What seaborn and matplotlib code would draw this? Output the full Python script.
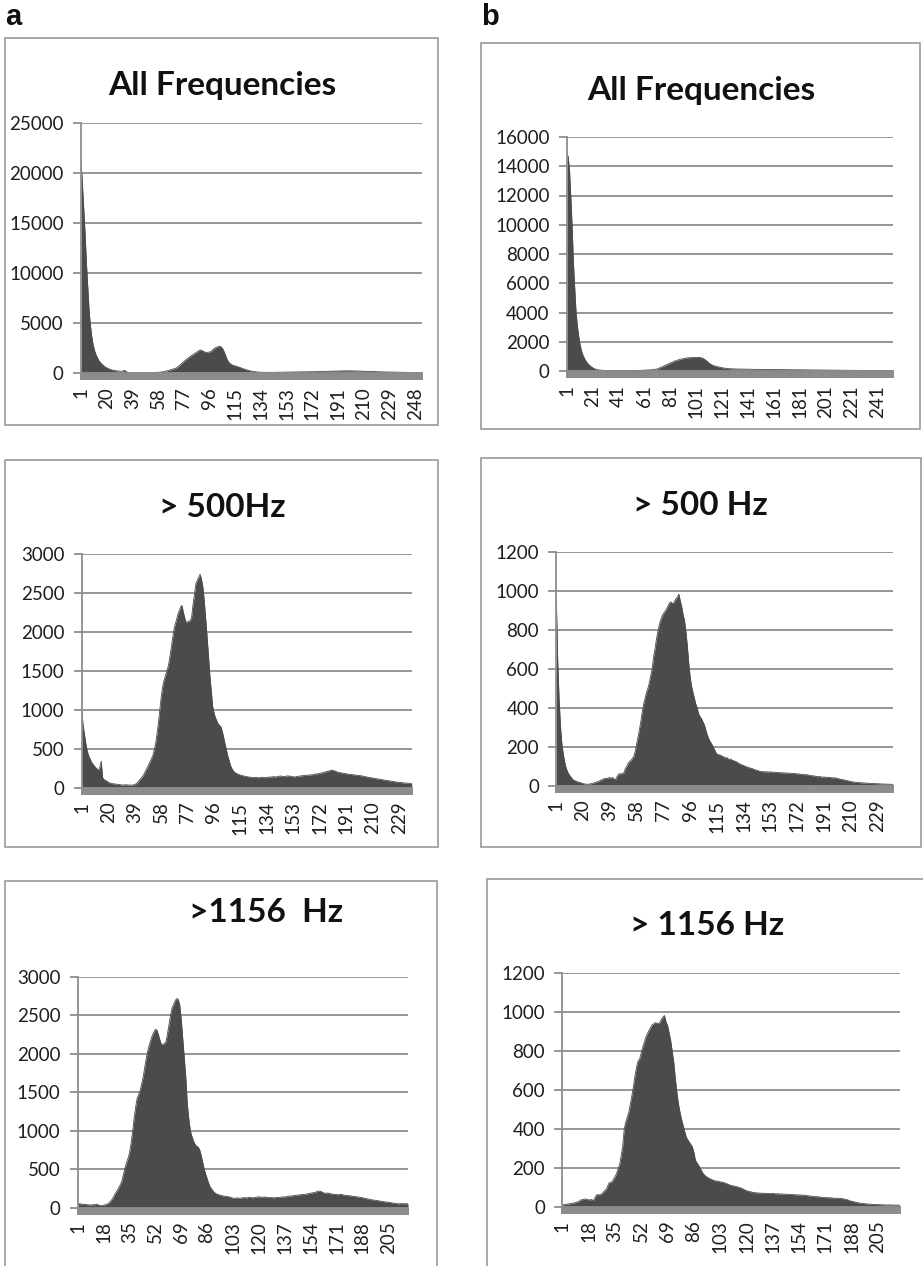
import numpy as np
import pandas as pd
import matplotlib
matplotlib.use("Agg")
import matplotlib.pyplot as plt
from matplotlib.patches import Rectangle
import seaborn as sns

# histogram counts per bin
all_freq_a = [
    21200, 19000, 16500, 14000, 11000, 8600, 6200, 4700, 3600, 2800,
    2250, 1850, 1550, 1300, 1100, 950, 820, 700, 600, 520,
    450, 390, 340, 300, 270, 240, 220, 200, 190, 180,
    170, 200, 280, 180, 90, 60, 50, 45, 40, 40,
    38, 36, 35, 35, 34, 33, 33, 34, 35, 36,
    38, 40, 42, 45, 50, 55, 62, 70, 80, 95,
    110, 130, 160, 190, 230, 270, 310, 350, 390, 430,
    480, 560, 660, 780, 900, 1030, 1150, 1270, 1380, 1480,
    1580, 1680, 1770, 1860, 1950, 2040, 2120, 2230, 2310, 2280,
    2200, 2120, 2080, 2060, 2070, 2090, 2150, 2280, 2400, 2500,
    2570, 2620, 2660, 2650, 2550, 2350, 2050, 1700, 1350, 1100,
    960, 870, 790, 740, 700, 660, 630, 590, 530, 470,
    420, 370, 330, 290, 250, 210, 180, 160, 140, 120,
    100, 90, 80, 75, 70, 68, 66, 64, 62, 60,
    60, 62, 64, 66, 68, 70, 72, 74, 76, 78,
    80, 82, 84, 86, 88, 90, 92, 94, 96, 98,
    100, 102, 104, 106, 108, 110, 112, 115, 118, 121,
    124, 127, 130, 134, 138, 142, 146, 150, 155, 160,
    165, 170, 175, 180, 185, 190, 195, 200, 204, 208,
    212, 215, 218, 220, 221, 222, 222, 221, 220, 218,
    215, 212, 208, 204, 200, 195, 190, 185, 180, 175,
    170, 165, 160, 155, 150, 145, 140, 135, 130, 126,
    122, 118, 114, 110, 106, 102, 98, 95, 92, 89,
    86, 83, 80, 78, 76, 74, 72, 70, 68, 66,
    64, 62, 60, 58, 56, 55, 54, 53, 52, 51,
    50, 49, 48,
]

all_freq_b = [
    14900, 14600, 13600, 11800, 9800, 7300, 5600, 4000, 3100, 2400,
    1850, 1450, 1150, 950, 780, 640, 520, 430, 350, 280,
    220, 170, 130, 100, 80, 65, 55, 50, 45, 42,
    40, 38, 36, 35, 34, 33, 32, 32, 31, 31,
    30, 30, 30, 30, 30, 30, 31, 31, 32, 32,
    33, 34, 35, 36, 38, 40, 42, 45, 48, 52,
    56, 60, 65, 70, 76, 82, 90, 100, 115, 130,
    150, 190, 230, 270, 310, 350, 390, 430, 470, 510,
    550, 590, 630, 670, 700, 730, 760, 790, 810, 830,
    850, 870, 885, 895, 905, 910, 915, 920, 925, 928,
    930, 932, 930, 920, 900, 870, 820, 760, 680, 600,
    530, 470, 420, 380, 350, 320, 300, 280, 260, 240,
    220, 205, 190, 180, 170, 162, 155, 150, 146, 142,
    139, 136, 134, 132, 130, 128, 126, 124, 122, 120,
    118, 117, 116, 115, 114, 113, 112, 111, 110, 109,
    108, 107, 106, 105, 104, 103, 102, 101, 100, 99,
    98, 97, 96, 95, 94, 93, 92, 91, 90, 89,
    88, 87, 86, 85, 84, 83, 82, 81, 80, 79,
    78, 77, 76, 75, 74, 73, 72, 71, 70, 69,
    68, 67, 66, 65, 64, 63, 62, 61, 60, 59,
    58, 57, 57, 56, 55, 55, 54, 53, 53, 52,
    51, 51, 50, 49, 49, 48, 47, 47, 46, 45,
    45, 44, 44, 43, 42, 42, 41, 41, 40, 40,
    39, 39, 38, 38, 37, 37, 36, 36, 35, 35,
    35, 34, 34, 33, 33, 33, 32, 32, 32, 31,
    31, 31, 30,
]

above500_a = [
    1000, 800, 680, 560, 470, 410, 370, 330, 305, 280,
    260, 240, 225, 260, 340, 130, 105, 95, 85, 70,
    62, 58, 52, 50, 47, 45, 42, 40, 38, 35,
    36, 34, 40, 33, 35, 34, 32, 36, 40, 50,
    65, 85, 110, 130, 150, 185, 220, 255, 290, 330,
    370, 410, 480, 560, 680, 820, 980, 1150, 1280, 1370,
    1430, 1490, 1550, 1640, 1760, 1880, 2000, 2090, 2150, 2220,
    2270, 2320, 2340, 2250, 2180, 2120, 2130, 2140, 2140, 2200,
    2360, 2480, 2620, 2660, 2700, 2740, 2680, 2580, 2400, 2180,
    1950, 1700, 1450, 1250, 1050, 960, 900, 860, 820, 800,
    780, 720, 640, 560, 480, 400, 340, 280, 240, 215,
    195, 185, 175, 168, 162, 158, 152, 148, 145, 140,
    138, 135, 132, 128, 130, 133, 130, 127, 130, 132,
    134, 130, 128, 131, 135, 138, 136, 140, 142, 138,
    140, 145, 148, 150, 146, 143, 145, 148, 152, 150,
    147, 142, 140, 138, 142, 145, 148, 150, 153, 155,
    158, 160, 158, 162, 165, 163, 168, 172, 175, 178,
    180, 184, 188, 192, 198, 203, 208, 214, 218, 222,
    225, 220, 212, 205, 198, 195, 192, 188, 185, 182,
    178, 175, 172, 170, 168, 166, 164, 162, 160, 158,
    155, 152, 148, 145, 140, 137, 134, 130, 127, 124,
    120, 117, 114, 111, 108, 105, 102, 99, 96, 93,
    90, 87, 84, 81, 78, 75, 72, 70, 68, 66,
    64, 62, 60, 58, 57, 56, 55, 55,
]

above500_b = [
    960, 640, 440, 300, 210, 160, 120, 90, 72, 58,
    48, 38, 30, 26, 23, 20, 18, 16, 13, 11,
    9, 8, 7, 8, 9, 11, 13, 15, 17, 20,
    22, 26, 30, 33, 36, 38, 37, 40, 42, 38,
    42, 35, 30, 45, 58, 62, 60, 64, 66, 88,
    100, 115, 125, 130, 140, 150, 175, 215, 250, 290,
    330, 380, 420, 450, 480, 500, 530, 565, 600, 660,
    700, 750, 790, 825, 850, 870, 885, 895, 905, 920,
    935, 945, 940, 935, 950, 962, 970, 985, 950, 920,
    880, 850, 790, 720, 630, 560, 510, 480, 450, 420,
    400, 370, 355, 345, 330, 315, 290, 265, 245, 230,
    218, 205, 190, 175, 162, 160, 158, 155, 150, 148,
    142, 145, 138, 135, 137, 130, 128, 125, 122, 118,
    112, 110, 106, 104, 100, 97, 95, 92, 90, 88,
    85, 82, 80, 78, 75, 73, 72, 73, 70, 72,
    71, 70, 72, 69, 70, 68, 69, 67, 68, 66,
    67, 66, 65, 66, 64, 65, 63, 64, 62, 63,
    62, 60, 61, 59, 58, 59, 57, 56, 57, 55,
    53, 52, 50, 51, 48, 47, 46, 47, 45, 44,
    45, 43, 44, 42, 43, 41, 40, 41, 40, 38,
    36, 35, 33, 32, 30, 28, 27, 25, 23, 22,
    20, 19, 18, 17, 17, 16, 15, 15, 14, 14,
    13, 13, 12, 12, 11, 11, 11, 10, 10, 10,
    9, 9, 9, 8, 8, 8, 8, 7, 7, 7,
]

above1156_a = [
    56, 52, 48, 45, 44, 42, 40, 38, 35, 36,
    40, 38, 43, 45, 30, 26, 28, 32, 38, 45,
    55, 69, 95, 121, 160, 195, 225, 265, 300, 345,
    430, 511, 580, 640, 706, 830, 980, 1150, 1300, 1420,
    1470, 1520, 1610, 1700, 1820, 1940, 2040, 2113, 2180, 2240,
    2280, 2320, 2310, 2250, 2180, 2120, 2125, 2135, 2160, 2265,
    2380, 2500, 2600, 2640, 2690, 2720, 2710, 2640, 2450, 2200,
    1950, 1700, 1350, 1150, 1000, 930, 870, 830, 800, 790,
    760, 690, 600, 511, 440, 381, 320, 270, 242, 215,
    195, 180, 173, 165, 160, 155, 150, 148, 145, 143,
    138, 130, 125, 121, 125, 128, 121, 123, 128, 132,
    130, 127, 133, 135, 130, 128, 132, 136, 139, 142,
    138, 135, 138, 140, 136, 132, 130, 133, 130, 128,
    131, 134, 132, 135, 138, 141, 140, 143, 148, 152,
    150, 155, 158, 160, 162, 165, 168, 170, 172, 173,
    176, 180, 184, 188, 192, 195, 200, 208, 214, 216,
    210, 198, 190, 186, 192, 188, 182, 178, 175, 173,
    170, 168, 172, 175, 168, 163, 160, 158, 156, 154,
    150, 148, 146, 142, 139, 136, 134, 130, 125, 120,
    116, 112, 108, 104, 100, 98, 95, 92, 88, 85,
    82, 78, 76, 73, 70, 67, 64, 60, 57, 54,
    52, 51, 52, 53, 52, 51, 52, 52,
]

above1156_b = [
    9, 10, 12, 13, 14, 15, 17, 18, 20, 22,
    25, 28, 35, 36, 38, 40, 38, 36, 34, 38,
    29, 45, 60, 62, 61, 63, 70, 80, 86, 100,
    120, 125, 128, 140, 154, 170, 195, 214, 260, 308,
    400, 436, 460, 487, 530, 573, 620, 675, 720, 750,
    761, 790, 821, 845, 872, 890, 906, 920, 935, 940,
    946, 944, 940, 948, 963, 975, 983, 950, 932, 895,
    855, 800, 744, 660, 590, 530, 487, 450, 419, 390,
    359, 345, 333, 320, 308, 280, 239, 225, 214, 200,
    185, 170, 162, 155, 150, 145, 142, 138, 135, 132,
    132, 130, 128, 126, 125, 122, 119, 116, 112, 110,
    108, 106, 104, 102, 100, 97, 94, 90, 86, 82,
    80, 78, 76, 74, 72, 72, 71, 70, 70, 69,
    69, 68, 69, 68, 67, 68, 68, 67, 66, 67,
    66, 65, 66, 64, 65, 63, 64, 63, 62, 63,
    61, 62, 60, 61, 60, 59, 60, 58, 57, 56,
    55, 54, 53, 52, 51, 52, 50, 49, 48, 47,
    47, 46, 47, 45, 46, 44, 43, 44, 43, 42,
    43, 41, 40, 38, 36, 33, 30, 28, 26, 24,
    22, 20, 19, 18, 17, 16, 15, 14, 13, 13,
    12, 12, 11, 11, 11, 10, 10, 10, 9, 9,
    9, 9, 9, 9, 8, 8, 8, 8, 8,
]

titles = ["All Frequencies", "All Frequencies", "> 500Hz", "> 500 Hz",
          ">1156  Hz", "> 1156 Hz"]
y_max = [25000, 16000, 3000, 1200, 3000, 1200]
y_step = [5000, 2000, 500, 200, 500, 200]
label_every = [19, 20, 19, 19, 17, 17]
series = [all_freq_a, all_freq_b, above500_a, above500_b, above1156_a, above1156_b]

# layout in pixels: frame box, plot area, title centre/baseline
boxes = [(5, 38, 438, 425), (481, 43, 920, 429), (5, 460, 438, 847),
         (481, 458, 921, 847), (5, 881, 437, 1290), (487, 879, 925, 1290)]
areas = [(81, 123, 422, 373), (567, 137, 893, 371), (81.7, 554, 411.7, 787.7),
         (556.3, 552.3, 893, 785.7), (77.7, 977, 408, 1207.7), (562.3, 973.3, 899.7, 1206.7)]
title_pos = [(222, 95), (701, 100), (222, 517), (700, 515), (266, 922), (707, 935)]

W, H = 923, 1266
FILL = "#4b4b4b"
GRID = "#8e8e8e"
TEXT = "#1e1e1e"

sns.set_theme(style="white")
plt.rcParams["font.family"] = ["Lato", "DejaVu Sans"]

fig = plt.figure(figsize=(W / 100, H / 100), dpi=100)
fig.patch.set_facecolor("white")

for i, vals in enumerate(series):
    l, t, r, b = boxes[i]
    fig.patches.append(Rectangle((l / W, 1 - b / H), (r - l) / W, (b - t) / H,
                                 transform=fig.transFigure, fill=False,
                                 edgecolor="#9a9a9a", lw=1.2))

    l, t, r, b = areas[i]
    ax = fig.add_axes([l / W, 1 - b / H, (r - l) / W, (b - t) / H])
    n = len(vals)
    df = pd.DataFrame({"bin": np.arange(1, n + 1), "count": vals})
    sns.lineplot(data=df, x="bin", y="count", ax=ax, color=FILL, lw=0.6, legend=False)
    ax.fill_between(df["bin"], df["count"], 0, color=FILL, lw=0)

    ax.set_xlim(1, n)
    ax.set_ylim(0, y_max[i])
    ax.set_yticks(np.arange(0, y_max[i] + 1, y_step[i]))
    major = np.arange(1, n + 1, label_every[i])
    ax.set_xticks(major)
    ax.set_xticklabels([str(m) for m in major], rotation=90, va="top", ha="center")
    ax.set_xticks(np.arange(1, n + 1), minor=True)
    ax.set_xlabel("")
    ax.set_ylabel("")

    ax.set_facecolor("white")
    ax.grid(axis="y", color=GRID, lw=1.3)
    ax.grid(axis="x", visible=False)
    ax.set_axisbelow(True)
    for side in ["top", "right"]:
        ax.spines[side].set_visible(False)
    ax.spines["left"].set_color(GRID)
    ax.spines["left"].set_linewidth(1.3)
    ax.spines["bottom"].set_color(GRID)
    ax.spines["bottom"].set_linewidth(1.3)

    ax.tick_params(axis="y", which="major", left=True, direction="out", length=5.5,
                   width=1.3, color=GRID, pad=7, labelsize=13.5, labelcolor=TEXT)
    # one tick per bin: packed together they make the grey strip under the axis
    ax.tick_params(axis="x", which="both", bottom=True, direction="out", length=5,
                   width=1.4, color="#8a8a8a", pad=5, labelsize=13.5, labelcolor=TEXT)

    cx, cy = title_pos[i]
    fig.text(cx / W, 1 - cy / H, titles[i], ha="center", va="baseline",
             fontsize=24, fontweight="bold", color="#111111")

fig.text(5 / W, 1 - 25 / H, "a", ha="left", va="baseline", fontsize=21,
         fontweight="bold", family=["Liberation Sans", "DejaVu Sans"], color="#111111")
fig.text(481 / W, 1 - 25 / H, "b", ha="left", va="baseline", fontsize=21,
         fontweight="bold", family=["Liberation Sans", "DejaVu Sans"], color="#111111")

fig.savefig("out.png", dpi=100, facecolor="white")
